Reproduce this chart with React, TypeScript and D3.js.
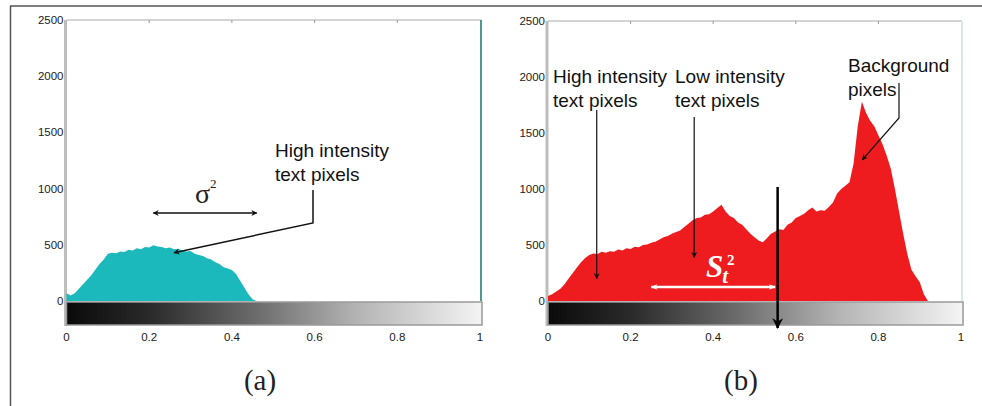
import React from "react";
import * as d3 from "d3";

// intensity bins (0..1, step 0.01) and pixel counts
const binsA = d3.range(0, 47).map((i) => i / 100);
const countsA = [
  70, 50, 70, 110, 150, 190, 230, 280, 330, 370,
  420, 430, 425, 440, 435, 455, 450, 470, 460, 480,
  475, 495, 485, 480, 470, 475, 460, 465, 450, 440,
  445, 420, 410, 400, 380, 370, 345, 330, 300, 290,
  275, 240, 180, 120, 60, 15, 0,
];

const binsB = d3.range(0, 93).map((i) => i / 100);
const countsB = [
  45, 60, 85, 110, 150, 200, 250, 300, 345, 385,
  410, 425, 420, 440, 430, 445, 440, 460, 450, 470,
  465, 485, 480, 500, 505, 520, 530, 550, 570, 580,
  600, 615, 630, 660, 690, 720, 740, 745, 770, 775,
  800, 830, 860, 800, 760, 740, 700, 680, 640, 600,
  570, 540, 525, 560, 600, 620, 640, 635, 680, 700,
  740, 760, 780, 810, 835, 800, 810, 805, 840, 880,
  960, 1000, 1030, 1060, 1230, 1560, 1780, 1680, 1610, 1560,
  1480, 1400, 1300, 1180, 1000, 800, 600, 420, 280, 220,
  170, 60, 0,
];

const xTicks = [0, 0.2, 0.4, 0.6, 0.8, 1];
const yTicks = [0, 500, 1000, 1500, 2000, 2500];
const threshold = 0.556;

const sans = "Liberation Sans, Arial, sans-serif";
const serif = "Liberation Serif, Times New Roman, serif";

type PanelProps = {
  id: string;
  x0: number;
  x1: number;
  top: number;
  bins: number[];
  counts: number[];
  fill: string;
  rightStroke: string;
  children?: (x: d3.ScaleLinear<number, number>, y: d3.ScaleLinear<number, number>) => React.ReactNode;
};

const Panel = ({ id, x0, x1, top, bins, counts, fill, rightStroke, children }: PanelProps) => {
  const x = d3.scaleLinear().domain([0, 1]).range([x0, x1]);
  const y = d3.scaleLinear().domain([0, 2500]).range([301, top]);
  const area = d3
    .area<number>()
    .x((_, i) => x(bins[i]))
    .y0(y(0))
    .y1((d) => y(d))
    .curve(d3.curveLinear);

  return (
    <g>
      <defs>
        <linearGradient id={`grad-${id}`} x1="0" x2="1" y1="0" y2="0">
          <stop offset="0" stopColor="#0a0a0a" />
          <stop offset="0.2" stopColor="#2a2a2a" />
          <stop offset="0.45" stopColor="#6a6a6a" />
          <stop offset="0.7" stopColor="#b4b4b4" />
          <stop offset="1" stopColor="#f4f4f4" />
        </linearGradient>
      </defs>
      {/* plot frame */}
      <rect x={x0} y={top} width={x1 - x0 + 1} height={y(0) - top} fill="#fff" />
      <line x1={x0} x2={x1 + 1} y1={top} y2={top} stroke="#d4d4d4" strokeWidth={2} />
      <line x1={x0 - 1} x2={x0 - 1} y1={top} y2={326} stroke="#bdbdbd" strokeWidth={3} />
      <line x1={x1 + 1} x2={x1 + 1} y1={top} y2={301} stroke={rightStroke} strokeWidth={2} />
      {xTicks.slice(1, -1).map((t) => (
        <line key={t} x1={x(t)} x2={x(t)} y1={top} y2={top + 3} stroke="#999" />
      ))}
      <path d={area(counts) ?? ""} fill={fill} />
      {/* intensity colour bar */}
      <rect x={x0} y={302} width={x1 - x0 + 2} height={23} fill={`url(#grad-${id})`} stroke="#9a9a9a" strokeWidth={1.5} />
      {yTicks.map((t) => (
        <text key={t} x={x0 - 3} y={y(t) + 1} fontFamily={sans} fontSize={11.5} textAnchor="end" dominantBaseline="middle" fill="#1a1a1a">
          {t}
        </text>
      ))}
      {xTicks.map((t) => (
        <text key={t} x={x(t)} y={338} fontFamily={sans} fontSize={11.5} textAnchor="middle" dominantBaseline="middle" fill="#1a1a1a">
          {t}
        </text>
      ))}
      {children && children(x, y)}
    </g>
  );
};

const Label = ({ x, y, lines }: { x: number; y: number; lines: string[] }) => (
  <text x={x} y={y} fontFamily={sans} fontSize={19} fill="#111">
    {lines.map((l, i) => (
      <tspan key={l} x={x} dy={i === 0 ? 0 : 24}>
        {l}
      </tspan>
    ))}
  </text>
);

export default function App() {
  return (
    <svg width={982} height={406} style={{ position: "absolute", left: 0, top: 0, background: "#fff" }}>
      <defs>
        <marker id="ah" viewBox="0 0 10 10" refX="9" refY="5" markerWidth="8" markerHeight="6" orient="auto-start-reverse" markerUnits="userSpaceOnUse">
          <path d="M0,0 L10,5 L0,10 L3,5 z" fill="#111" />
        </marker>
        <marker id="ahw" viewBox="0 0 10 10" refX="9" refY="5" markerWidth="9" markerHeight="7" orient="auto-start-reverse" markerUnits="userSpaceOnUse">
          <path d="M0,1 L10,5 L0,9 L3,5 z" fill="#fff" />
        </marker>
        <marker id="ahb" viewBox="0 0 10 10" refX="9" refY="5" markerWidth="17" markerHeight="11" orient="auto" markerUnits="userSpaceOnUse">
          <path d="M0,0 L10,5 L0,10 L3,5 z" fill="#000" />
        </marker>
      </defs>

      {/* outer frame */}
      <line x1={10} x2={982} y1={6} y2={6} stroke="#555" strokeWidth={1.5} />
      <line x1={10.5} x2={10.5} y1={6} y2={406} stroke="#555" strokeWidth={1.5} />

      <Panel id="a" x0={66.5} x1={480} top={20} bins={binsA} counts={countsA} fill="#1bb8bc" rightStroke="#4c9a90">
        {(x, y) => (
          <g>
            <Label x={275} y={157} lines={["High intensity", "text pixels"]} />
            <polyline
              points={`313,190 313,223 ${x(0.26)},${y(430)}`}
              fill="none"
              stroke="#111"
              strokeWidth={1.5}
              markerEnd="url(#ah)"
            />
            <line x1={x(0.21)} x2={x(0.46)} y1={213} y2={213} stroke="#111" strokeWidth={1.5} markerStart="url(#ah)" markerEnd="url(#ah)" />
            <text x={195} y={203} fontFamily={serif} fontSize={28} fill="#222">
              σ
              <tspan fontSize={13} dx={0} dy={-15}>
                2
              </tspan>
            </text>
          </g>
        )}
      </Panel>

      <Panel id="b" x0={548} x1={961} top={21} bins={binsB} counts={countsB} fill="#ee1c1e" rightStroke="#d6eadf">
        {(x, y) => (
          <g>
            <Label x={553} y={83} lines={["High intensity", "text pixels"]} />
            <Label x={675} y={83} lines={["Low intensity", "text pixels"]} />
            <Label x={848} y={72} lines={["Background", "pixels"]} />
            <line x1={x(0.118)} x2={x(0.118)} y1={110} y2={y(200)} stroke="#111" strokeWidth={1.2} markerEnd="url(#ah)" />
            <line x1={x(0.354)} x2={x(0.354)} y1={117} y2={y(390)} stroke="#111" strokeWidth={1.2} markerEnd="url(#ah)" />
            <polyline
              points={`899,83 899,118 ${x(0.761)},${y(1260)}`}
              fill="none"
              stroke="#111"
              strokeWidth={1.2}
              markerEnd="url(#ah)"
            />
            <line x1={x(0.25)} x2={x(0.55)} y1={287} y2={287} stroke="#fff" strokeWidth={2.5} markerStart="url(#ahw)" markerEnd="url(#ahw)" />
            <text x={706} y={277} fontFamily={serif} fontSize={31} fontStyle="italic" fontWeight="bold" fill="#fff">
              S
              <tspan fontSize={21} dx={-1} dy={6}>
                t
              </tspan>
            </text>
            <text x={727} y={265} fontFamily={serif} fontSize={15} fontWeight="bold" fill="#fff">
              2
            </text>
            <line x1={x(threshold)} x2={x(threshold)} y1={187} y2={328} stroke="#000" strokeWidth={2.5} markerEnd="url(#ahb)" />
          </g>
        )}
      </Panel>

      <text x={260} y={390} fontFamily={serif} fontSize={29} textAnchor="middle" fill="#222">
        (a)
      </text>
      <text x={741} y={390} fontFamily={serif} fontSize={29} textAnchor="middle" fill="#222">
        (b)
      </text>
    </svg>
  );
}
